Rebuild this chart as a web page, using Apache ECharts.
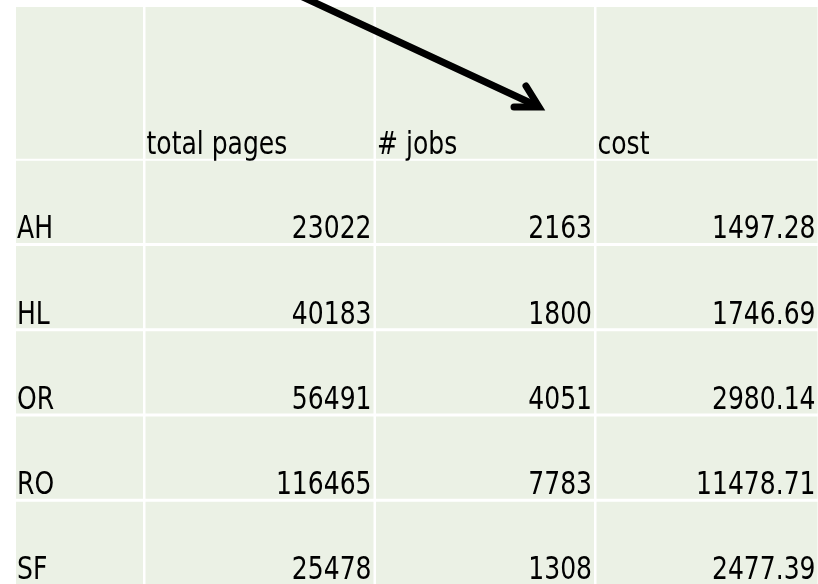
<!DOCTYPE html>
<html>
<head>
<meta charset="utf-8">
<script src="https://cdn.jsdelivr.net/npm/echarts@6/dist/echarts.min.js"></script>
<style>
  html, body { margin: 0; padding: 0; background: #fff; }
  #chart { width: 818px; height: 584px; }
</style>
</head>
<body>
<div id="chart"></div>
<script>
// table data
var rowNames = ['AH', 'HL', 'OR', 'RO', 'SF'];
var headers = ['total pages', '# jobs', 'cost'];
var totalPages = [23022, 40183, 56491, 116465, 25478];
var jobs = [2163, 1800, 4051, 7783, 1308];
var cost = [1497.28, 1746.69, 2980.14, 11478.71, 2477.39];

// layout (grid units = pixels)
var colWidths = [127, 228, 218, 221];
var colGap = 2.5;
var headerH = 153;
var rowH = 83;
var rowGap = 3;
var cellFill = '#EBF1E5';
var font = '32px "DejaVu Sans Condensed", "DejaVu Sans", sans-serif';
var textSqueeze = 0.87;

var colX0 = [], colX1 = [];
var x = 0;
colWidths.forEach(function (w) {
  colX0.push(x);
  colX1.push(x + w);
  x += w + colGap;
});
var rowY0 = [0], rowY1 = [headerH];
for (var i = 0; i < rowNames.length; i++) {
  var y0 = headerH + 2 + i * (rowH + rowGap);
  rowY0.push(y0);
  rowY1.push(y0 + rowH);
}

// cells: [col, row, text, align]
var cells = [];
cells.push([0, 0, '', 'left']);
headers.forEach(function (h, j) { cells.push([j + 1, 0, h, 'left']); });
rowNames.forEach(function (name, i) {
  cells.push([0, i + 1, name, 'left']);
  cells.push([1, i + 1, String(totalPages[i]), 'right']);
  cells.push([2, i + 1, String(jobs[i]), 'right']);
  cells.push([3, i + 1, cost[i].toFixed(2), 'right']);
});

var chart = echarts.init(document.getElementById('chart'));

var option = {
  animation: false,
  backgroundColor: '#fff',
  grid: { left: 16, top: 7, width: 802, height: 582 },
  xAxis: { type: 'value', min: 0, max: 802, show: false },
  yAxis: { type: 'value', min: 0, max: 582, inverse: true, show: false },
  graphic: [
    {
      type: 'line',
      z: 100,
      shape: { x1: 292, y1: -8, x2: 537, y2: 106 },
      style: { stroke: '#000', lineWidth: 7, lineCap: 'round' }
    },
    {
      type: 'polyline',
      z: 100,
      shape: { points: [[526, 86], [539, 107], [514, 107]] },
      style: { stroke: '#000', lineWidth: 7, lineCap: 'round', lineJoin: 'miter', fill: null }
    }
  ],
  series: [{
    type: 'custom',
    coordinateSystem: 'cartesian2d',
    encode: { x: 0, y: 1 },
    data: cells,
    renderItem: function (params, api) {
      var c = api.value(0), r = api.value(1);
      var item = cells[params.dataIndex];
      var p0 = api.coord([colX0[c], rowY0[r]]);
      var p1 = api.coord([colX1[c], rowY1[r]]);
      var right = item[3] === 'right';
      return {
        type: 'group',
        children: [
          {
            type: 'rect',
            shape: { x: p0[0], y: p0[1], width: p1[0] - p0[0], height: p1[1] - p0[1] },
            style: { fill: cellFill }
          },
          {
            type: 'text',
            x: right ? p1[0] - 2 : p0[0] + 1,
            y: p1[1] + 3,
            scaleX: textSqueeze,
            style: {
              text: item[2],
              x: 0,
              y: 0,
              align: right ? 'right' : 'left',
              verticalAlign: 'bottom',
              font: font,
              fill: '#000'
            }
          }
        ]
      };
    }
  }]
};

chart.setOption(option);
</script>
</body>
</html>
